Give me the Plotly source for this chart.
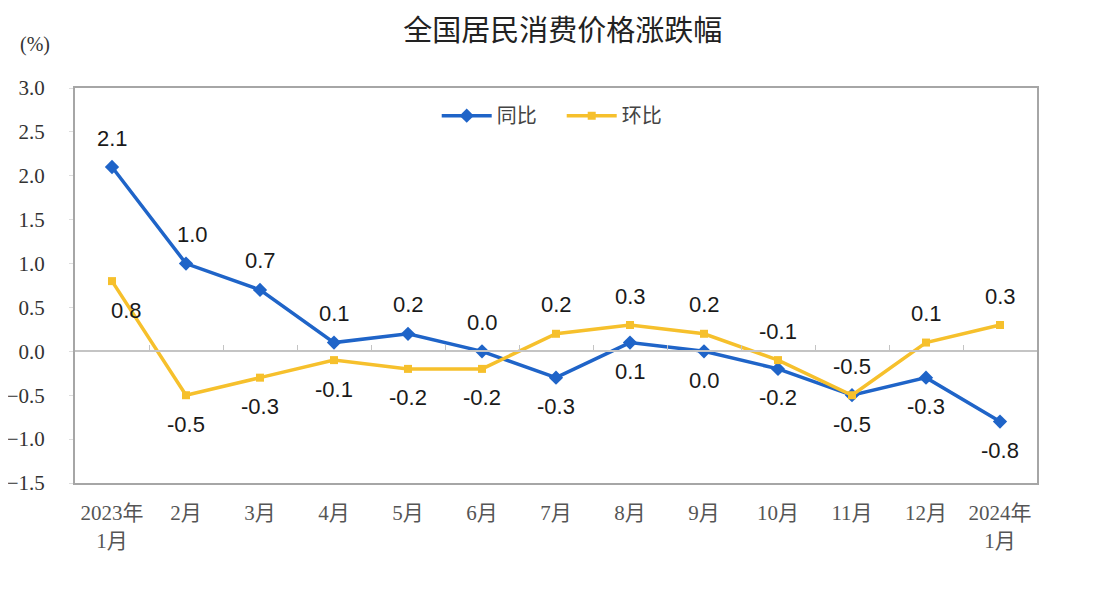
import plotly.graph_objects as go

# 全国居民消费价格涨跌幅 (%)
months = ["2023年<br>1月", "2月", "3月", "4月", "5月", "6月", "7月",
          "8月", "9月", "10月", "11月", "12月", "2024年<br>1月"]
yoy = [2.1, 1.0, 0.7, 0.1, 0.2, 0.0, -0.3, 0.1, 0.0, -0.2, -0.5, -0.3, -0.8]
mom = [0.8, -0.5, -0.3, -0.1, -0.2, -0.2, 0.2, 0.3, 0.2, -0.1, -0.5, 0.1, 0.3]

# label side for each point: 1 above, -1 below
yoy_side = [1, 1, 1, 1, 1, 1, -1, -1, -1, -1, -1, -1, -1]
mom_side = [-1, -1, -1, -1, -1, -1, 1, 1, 1, 1, 1, 1, 1]

BLUE = "#1f64c8"
YELLOW = "#f6c02c"
AXIS_GRAY = "#a6a6a6"
SERIF = "Liberation Serif, Noto Sans CJK SC"
SANS = "Liberation Sans, Arial, sans-serif"

fig = go.Figure()

fig.add_trace(go.Scatter(
    x=months, y=yoy, name="同比", mode="lines+markers",
    line=dict(color=BLUE, width=3.5),
    marker=dict(symbol="diamond", size=11, color=BLUE),
))
fig.add_trace(go.Scatter(
    x=months, y=mom, name="环比", mode="lines+markers",
    xaxis="x2",
    line=dict(color=YELLOW, width=3.5),
    marker=dict(symbol="square", size=8, color=YELLOW),
))

annotations = []
for series, sides in ((yoy, yoy_side), (mom, mom_side)):
    for m, v, s in zip(months, series, sides):
        annotations.append(dict(
            x=m, y=v, xref="x", yref="y", text=f"{v:.1f}",
            showarrow=False, yshift=29 * s, xanchor="center", yanchor="middle",
            font=dict(family=SANS, size=22, color="#1a1a1a"),
        ))
annotations[1]["xshift"] = 6
annotations[13]["xshift"] = 14

annotations.append(dict(
    x=-0.042, y=1.109, xref="paper", yref="paper", text="(%)", showarrow=False,
    xanchor="center", yanchor="middle",
    font=dict(family=SERIF, size=20, color="#333333"),
))

fig.update_layout(
    width=1114, height=598,
    margin=dict(l=67, r=85, t=80, b=123),
    paper_bgcolor="white", plot_bgcolor="white",
    title=dict(text="全国居民消费价格涨跌幅", x=0.498, xanchor="center",
               y=0.962, yanchor="middle",
               font=dict(family="Noto Sans CJK SC", size=29, color="#222222")),
    showlegend=True,
    legend=dict(orientation="h", x=0.376, xanchor="left", y=0.93, yanchor="middle",
                font=dict(family="Noto Sans CJK SC", size=20, color="#444444"),
                bgcolor="rgba(0,0,0,0)", itemwidth=50,
                entrywidth=60, entrywidthmode="pixels"),
    annotations=annotations,
    xaxis=dict(
        type="category", categoryorder="array", categoryarray=months,
        range=[-0.5, 12.5], showgrid=False, zeroline=False, automargin=False,
        showline=True, linecolor=AXIS_GRAY, linewidth=2, mirror=True,
        ticks="", ticklabelstandoff=10,
        tickfont=dict(family=SERIF, size=21, color="#555555"),
    ),
    xaxis2=dict(
        type="category", categoryorder="array", categoryarray=months,
        range=[-0.5, 12.5], overlaying="x", anchor="free", position=1 / 3,
        side="bottom", showgrid=False, zeroline=False, automargin=False,
        showline=True, linecolor="#c4c4c4", linewidth=1.5,
        ticks="inside", tickson="boundaries", ticklen=6, tickcolor="#c4c4c4",
        showticklabels=False,
    ),
    yaxis=dict(
        range=[-1.5, 3.0], dtick=0.5, tickformat=".1f", showgrid=False,
        zeroline=False, showline=True, linecolor=AXIS_GRAY, linewidth=2,
        mirror=True, ticks="outside", ticklen=4, tickcolor="#dddddd",
        ticklabelstandoff=20, automargin=False,
        tickfont=dict(family=SERIF, size=21, color="#333333"),
    ),
)

fig.write_html("out.html")
